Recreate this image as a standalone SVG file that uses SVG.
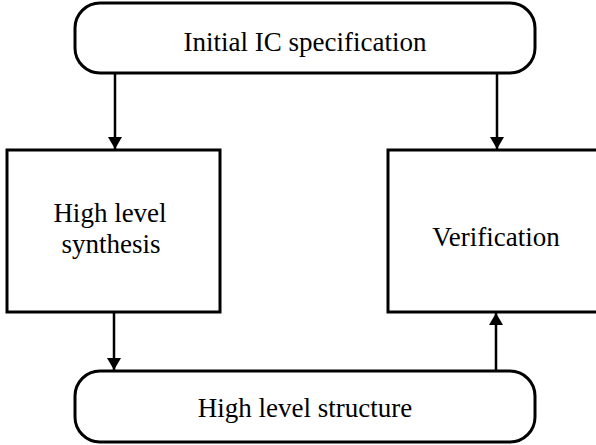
<svg xmlns="http://www.w3.org/2000/svg" width="596" height="445" viewBox="0 0 596 445">
  <style>
    .box { fill: #ffffff; stroke: #000000; stroke-width: 3; }
    .label { font-family: "Liberation Serif", "Times New Roman", serif; font-size: 27px; fill: #000000; text-anchor: middle; }
    .wire { fill: none; stroke: #000000; stroke-width: 2.5; }
  </style>
  <defs>
    <marker id="arrow" viewBox="0 0 12 14" refX="12" refY="7" markerWidth="12" markerHeight="14" markerUnits="userSpaceOnUse" orient="auto">
      <path d="M0,0 L12,7 L0,14 Z" fill="#000000"/>
    </marker>
  </defs>

  <rect width="596" height="445" fill="#ffffff"/>

  <g id="spec">
    <rect class="box" x="75" y="3" width="460" height="70" rx="25" ry="25"/>
    <text class="label" x="305" y="51">Initial IC specification</text>
  </g>

  <g id="synthesis">
    <rect class="box" x="7" y="150" width="213" height="162"/>
    <text class="label" x="110" y="222">High level</text>
    <text class="label" x="111" y="253">synthesis</text>
  </g>

  <g id="verification">
    <rect class="box" x="388" y="150" width="215" height="162"/>
    <text class="label" x="496" y="246">Verification</text>
  </g>

  <g id="structure">
    <rect class="box" x="75" y="371" width="460" height="71" rx="25" ry="25"/>
    <text class="label" x="305" y="417">High level structure</text>
  </g>

  <g id="connectors">
    <line class="wire" x1="115" y1="73" x2="115" y2="149" marker-end="url(#arrow)"/>
    <line class="wire" x1="497" y1="73" x2="497" y2="149" marker-end="url(#arrow)"/>
    <line class="wire" x1="114" y1="312" x2="114" y2="370" marker-end="url(#arrow)"/>
    <line class="wire" x1="496" y1="371" x2="496" y2="313" marker-end="url(#arrow)"/>
  </g>
</svg>
